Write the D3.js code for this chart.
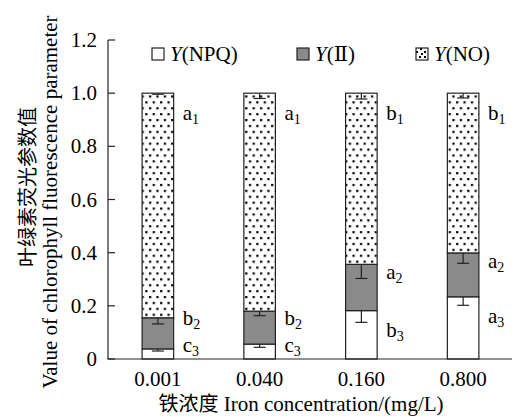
<!DOCTYPE html>
<html><head><meta charset="utf-8">
<script src="https://cdn.jsdelivr.net/npm/d3@7"></script>
<style>
body{margin:0;background:#fff;}
svg{display:block;}
</style></head>
<body>
<svg id="c" width="512" height="418"></svg>
<script>
const categories = ["0.001", "0.040", "0.160", "0.800"];
const seriesNames = ["Y(NPQ)", "Y(II)", "Y(NO)"];
const npq  = [0.038, 0.056, 0.182, 0.234];
const yII  = [0.117, 0.124, 0.174, 0.165];
const yNO  = [0.845, 0.820, 0.644, 0.601];
const errNPQ = [0.008, 0.012, 0.044, 0.032];
const errII  = [0.023, 0.017, 0.053, 0.039];
const errNO  = [0.004, 0.020, 0.022, 0.018];
const lblNPQ = [["c","3"],["c","3"],["b","3"],["a","3"]];
const lblII  = [["b","2"],["b","2"],["a","2"],["a","2"]];
const lblNO  = [["a","1"],["a","1"],["b","1"],["b","1"]];
const yTicks = [0, 0.2, 0.4, 0.6, 0.8, 1.0, 1.2];

const SERIF = "Liberation Serif, Times New Roman, Tinos, DejaVu Serif, serif";
const CJK = "Noto Sans CJK SC, Noto Sans CJK JP, sans-serif";

const svg = d3.select("#c").attr("font-family", SERIF);
const defs = svg.append("defs");
const pat = defs.append("pattern").attr("id","dots").attr("patternUnits","userSpaceOnUse")
  .attr("width",7.4).attr("height",11.8);
pat.append("rect").attr("width",7.4).attr("height",11.8).attr("fill","#fff");
pat.append("rect").attr("x",1).attr("y",1).attr("width",2.2).attr("height",2.2).attr("fill","#000");
pat.append("rect").attr("x",4.7).attr("y",6.9).attr("width",2.2).attr("height",2.2).attr("fill","#000");

const x = d3.scaleBand().domain(categories).range([107,514]).paddingInner(0.69).paddingOuter(0.345);
const y = d3.scaleLinear().domain([0,1.2]).range([359,40]);

const fills = ["#ffffff", "#8a8a8a", "url(#dots)"];
const vals = [npq, yII, yNO];
const errs = [errNPQ, errII, errNO];
const lbls = [lblNPQ, lblII, lblNO];

categories.forEach((c,i)=>{
  let base = 0;
  vals.forEach((arr,s)=>{
    const v = arr[i];
    const top = base + v;
    svg.append("rect").attr("x",x(c)).attr("width",x.bandwidth())
      .attr("y",y(top)).attr("height",y(base)-y(top))
      .attr("fill",fills[s]).attr("stroke","#222").attr("stroke-width",1.2);
    base = top;
  });
  base = 0;
  vals.forEach((arr,s)=>{
    const top = base + arr[i];
    const cx = x(c) + x.bandwidth()/2;
    const e = errs[s][i];
    const g = svg.append("g").attr("stroke","#222").attr("stroke-width",1.2);
    g.append("line").attr("x1",cx).attr("x2",cx).attr("y1",y(top)).attr("y2",y(top-e));
    g.append("line").attr("x1",cx-6).attr("x2",cx+6).attr("y1",y(top-e)).attr("y2",y(top-e));
    let ly;
    if (s===2) ly = y(top)+22;
    else if (s===1) ly = Math.min(y(top)+10, y(0)-39);
    else ly = Math.min(y(top)+21, y(0)-12);
    const t = svg.append("text").attr("x",x(c)+x.bandwidth()+9).attr("y",ly+5)
      .attr("font-size",21);
    t.append("tspan").text(lbls[s][i][0]);
    t.append("tspan").attr("font-size",14).attr("dy",4).text(lbls[s][i][1]);
    base = top;
  });
});

// axes
const ax = svg.append("g").attr("stroke","#222").attr("stroke-width",1.2);
ax.append("line").attr("x1",108).attr("x2",108).attr("y1",y(1.2)).attr("y2",y(0));
ax.append("line").attr("x1",107.4).attr("x2",512).attr("y1",y(0)).attr("y2",y(0));
yTicks.forEach(t=>{
  ax.append("line").attr("x1",108).attr("x2",115).attr("y1",y(t)).attr("y2",y(t));
  svg.append("text").attr("x",97).attr("y",y(t)+7).attr("text-anchor","end")
    .attr("font-size",21).text(t===0?"0":d3.format(".1f")(t));
});
categories.forEach(c=>{
  svg.append("text").attr("x",x(c)+x.bandwidth()/2).attr("y",386).attr("text-anchor","middle")
    .attr("font-size",21).text(c);
});

// titles
const xt = svg.append("text").attr("x",301).attr("y",411).attr("text-anchor","middle").attr("font-size",21);
xt.append("tspan").attr("font-family",CJK).attr("font-size",20).text("铁浓度");
xt.append("tspan").text(" Iron concentration/(mg/L)");
svg.append("text").attr("transform","translate(35,187) rotate(-90)").attr("text-anchor","middle")
  .attr("font-family",CJK).attr("font-size",20).text("叶绿素荧光参数值");
svg.append("text").attr("transform","translate(57,202) rotate(-90)").attr("text-anchor","middle")
  .attr("font-size",21).text("Value of chlorophyll fluorescence parameter");

// legend
const pl = defs.append("pattern").attr("id","dotsL").attr("patternUnits","userSpaceOnUse")
  .attr("x",416).attr("y",48).attr("width",12).attr("height",12);
pl.append("rect").attr("width",12).attr("height",12).attr("fill","#fff");
[[0,3],[4,0],[8,3],[3,8],[8,8],[5,5]].forEach(p=>pl.append("rect").attr("x",p[0]).attr("y",p[1]).attr("width",2).attr("height",2).attr("fill","#000"));
const legX = [152, 297, 416];
const legSub = ["(NPQ)", "(Ⅱ)", "(NO)"];
const legFill = ["#ffffff", "#8a8a8a", "url(#dotsL)"];
legX.forEach((lx,i)=>{
  svg.append("rect").attr("x",lx).attr("y",48).attr("width",12).attr("height",12)
    .attr("fill",legFill[i]).attr("stroke","#222").attr("stroke-width",1.2);
  const t = svg.append("text").attr("x",lx+18).attr("y",61).attr("font-size",21);
  t.append("tspan").attr("font-style","italic").text("Y");
  t.append("tspan").text(legSub[i]);
});
</script>
</body></html>
